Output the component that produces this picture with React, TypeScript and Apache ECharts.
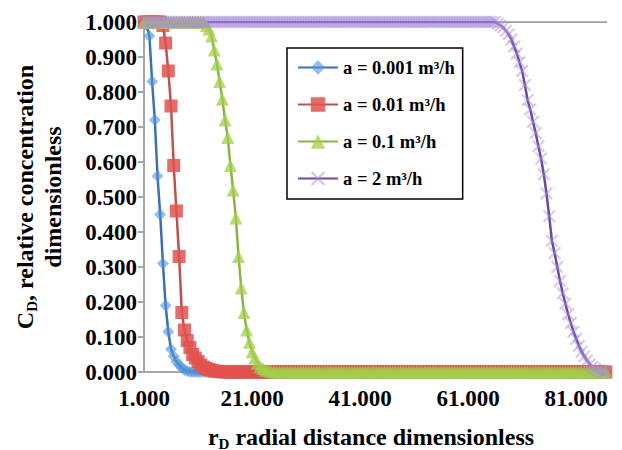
import React, { useEffect, useRef } from 'react';
import * as echarts from 'echarts';

// radial distance grid (rD), step 0.5
const rD = [
  1, 1.5, 2, 2.5, 3, 3.5, 4, 4.5, 5, 5.5,
  6, 6.5, 7, 7.5, 8, 8.5, 9, 9.5, 10, 10.5,
  11, 11.5, 12, 12.5, 13, 13.5, 14, 14.5, 15, 15.5,
  16, 16.5, 17, 17.5, 18, 18.5, 19, 19.5, 20, 20.5,
  21, 21.5, 22, 22.5, 23, 23.5, 24, 24.5, 25, 25.5,
  26, 26.5, 27, 27.5, 28, 28.5, 29, 29.5, 30, 30.5,
  31, 31.5, 32, 32.5, 33, 33.5, 34, 34.5, 35, 35.5,
  36, 36.5, 37, 37.5, 38, 38.5, 39, 39.5, 40, 40.5,
  41, 41.5, 42, 42.5, 43, 43.5, 44, 44.5, 45, 45.5,
  46, 46.5, 47, 47.5, 48, 48.5, 49, 49.5, 50, 50.5,
  51, 51.5, 52, 52.5, 53, 53.5, 54, 54.5, 55, 55.5,
  56, 56.5, 57, 57.5, 58, 58.5, 59, 59.5, 60, 60.5,
  61, 61.5, 62, 62.5, 63, 63.5, 64, 64.5, 65, 65.5,
  66, 66.5, 67, 67.5, 68, 68.5, 69, 69.5, 70, 70.5,
  71, 71.5, 72, 72.5, 73, 73.5, 74, 74.5, 75, 75.5,
  76, 76.5, 77, 77.5, 78, 78.5, 79, 79.5, 80, 80.5,
  81, 81.5, 82, 82.5, 83, 83.5, 84, 84.5, 85, 85.5,
  86, 86.5,
];

// CD values for a = 0.001 m3/h
const cdA0001 = [
  1, 0.99, 0.96, 0.83, 0.72, 0.56, 0.45, 0.31, 0.19, 0.115,
  0.065, 0.045, 0.03, 0.02, 0.012, 0.006, 0.003, 0.001, 0, 0,
  0, 0, 0, 0, 0, 0, 0, 0, 0, 0,
  0, 0, 0, 0, 0, 0, 0, 0, 0, 0,
  0, 0, 0, 0, 0, 0, 0, 0, 0, 0,
  0, 0, 0, 0, 0, 0, 0, 0, 0, 0,
  0, 0, 0, 0, 0, 0, 0, 0, 0, 0,
  0, 0, 0, 0, 0, 0, 0, 0, 0, 0,
  0, 0, 0, 0, 0, 0, 0, 0, 0, 0,
  0, 0, 0, 0, 0, 0, 0, 0, 0, 0,
  0, 0, 0, 0, 0, 0, 0, 0, 0, 0,
  0, 0, 0, 0, 0, 0, 0, 0, 0, 0,
  0, 0, 0, 0, 0, 0, 0, 0, 0, 0,
  0, 0, 0, 0, 0, 0, 0, 0, 0, 0,
  0, 0, 0, 0, 0, 0, 0, 0, 0, 0,
  0, 0, 0, 0, 0, 0, 0, 0, 0, 0,
  0, 0, 0, 0, 0, 0, 0, 0, 0, 0,
  0, 0,
];

// CD values for a = 0.01 m3/h
const cdA001 = [
  1, 1, 1, 1, 1, 1, 1, 0.99, 0.94, 0.86,
  0.76, 0.59, 0.46, 0.33, 0.17, 0.12, 0.09, 0.07, 0.05, 0.04,
  0.03, 0.02, 0.014, 0.01, 0.007, 0.005, 0.003, 0.002, 0.001, 0.001,
  0, 0, 0, 0, 0, 0, 0, 0, 0, 0,
  0, 0, 0, 0, 0, 0, 0, 0, 0, 0,
  0, 0, 0, 0, 0, 0, 0, 0, 0, 0,
  0, 0, 0, 0, 0, 0, 0, 0, 0, 0,
  0, 0, 0, 0, 0, 0, 0, 0, 0, 0,
  0, 0, 0, 0, 0, 0, 0, 0, 0, 0,
  0, 0, 0, 0, 0, 0, 0, 0, 0, 0,
  0, 0, 0, 0, 0, 0, 0, 0, 0, 0,
  0, 0, 0, 0, 0, 0, 0, 0, 0, 0,
  0, 0, 0, 0, 0, 0, 0, 0, 0, 0,
  0, 0, 0, 0, 0, 0, 0, 0, 0, 0,
  0, 0, 0, 0, 0, 0, 0, 0, 0, 0,
  0, 0, 0, 0, 0, 0, 0, 0, 0, 0,
  0, 0, 0, 0, 0, 0, 0, 0, 0, 0,
  0, 0,
];

// CD values for a = 0.1 m3/h
const cdA01 = [
  1, 1, 1, 1, 1, 1, 1, 1, 1, 1,
  1, 1, 1, 1, 1, 1, 1, 1, 1, 1,
  1, 1, 1, 0.99, 0.98, 0.96, 0.92, 0.88, 0.83, 0.78,
  0.72, 0.67, 0.59, 0.52, 0.44, 0.33, 0.24, 0.17, 0.12, 0.085,
  0.058, 0.04, 0.025, 0.015, 0.01, 0.006, 0.004, 0.002, 0.001, 0,
  0, 0, 0, 0, 0, 0, 0, 0, 0, 0,
  0, 0, 0, 0, 0, 0, 0, 0, 0, 0,
  0, 0, 0, 0, 0, 0, 0, 0, 0, 0,
  0, 0, 0, 0, 0, 0, 0, 0, 0, 0,
  0, 0, 0, 0, 0, 0, 0, 0, 0, 0,
  0, 0, 0, 0, 0, 0, 0, 0, 0, 0,
  0, 0, 0, 0, 0, 0, 0, 0, 0, 0,
  0, 0, 0, 0, 0, 0, 0, 0, 0, 0,
  0, 0, 0, 0, 0, 0, 0, 0, 0, 0,
  0, 0, 0, 0, 0, 0, 0, 0, 0, 0,
  0, 0, 0, 0, 0, 0, 0, 0, 0, 0,
  0, 0, 0, 0, 0, 0, 0, 0, 0, 0,
  0, 0,
];

// CD values for a = 2 m3/h
const cdA2 = [
  1, 1, 1, 1, 1, 1, 1, 1, 1, 1,
  1, 1, 1, 1, 1, 1, 1, 1, 1, 1,
  1, 1, 1, 1, 1, 1, 1, 1, 1, 1,
  1, 1, 1, 1, 1, 1, 1, 1, 1, 1,
  1, 1, 1, 1, 1, 1, 1, 1, 1, 1,
  1, 1, 1, 1, 1, 1, 1, 1, 1, 1,
  1, 1, 1, 1, 1, 1, 1, 1, 1, 1,
  1, 1, 1, 1, 1, 1, 1, 1, 1, 1,
  1, 1, 1, 1, 1, 1, 1, 1, 1, 1,
  1, 1, 1, 1, 1, 1, 1, 1, 1, 1,
  1, 1, 1, 1, 1, 1, 1, 1, 1, 1,
  1, 1, 1, 1, 1, 1, 1, 1, 1, 1,
  1, 1, 1, 1, 1, 1, 1, 1, 1, 1,
  1, 0.995, 0.99, 0.985, 0.975, 0.965, 0.95, 0.93, 0.91, 0.885,
  0.86, 0.82, 0.777, 0.75, 0.715, 0.683, 0.645, 0.61, 0.565, 0.51,
  0.445, 0.375, 0.34, 0.3, 0.26, 0.225, 0.195, 0.165, 0.14, 0.115,
  0.095, 0.075, 0.058, 0.045, 0.033, 0.022, 0.014, 0.009, 0.005, 0.003,
  0.001, 0,
];

// reference level CD = 1
const refX = [1, 86.7];
const refY = [1, 1];

const seriesNames = ['a = 0.001 m³/h', 'a = 0.01 m³/h', 'a = 0.1 m³/h', 'a = 2 m³/h'];
const xTickValues = [1, 21, 41, 61, 81];

const FONT = '"Liberation Serif", "Times New Roman", serif';
const X_SYMBOL =
  'path://M0,1.2L1.2,0L5,3.8L8.8,0L10,1.2L6.2,5L10,8.8L8.8,10L5,6.2L1.2,10L0,8.8L3.8,5Z';

export default function App() {
  const ref = useRef<HTMLDivElement>(null);

  useEffect(() => {
    if (!ref.current) return;
    const chart = echarts.init(ref.current, null, { renderer: 'svg' });
    const pair = (xs: number[], ys: number[]) => xs.map((x, i) => [x, ys[i]]);

    const mk = (
      name: string,
      ys: number[],
      symbol: string,
      size: number,
      lineColor: string,
      markColor: string,
      markOpacity: number
    ) => ({
      type: 'line',
      name,
      data: pair(rD, ys),
      symbol,
      symbolSize: size,
      showAllSymbol: true,
      silent: true,
      emphasis: { disabled: true },
      lineStyle: { color: lineColor, width: 2.5 },
      itemStyle: { color: markColor, opacity: markOpacity },
    });

    const sub = { fontFamily: FONT, fontWeight: 'bold', fontSize: 15, fill: '#000', color: '#000', verticalAlign: 'bottom' };
    const norm = { fontFamily: FONT, fontWeight: 'bold', fontSize: 24, fill: '#000', color: '#000', lineHeight: 28 };

    chart.setOption({
      animation: false,
      backgroundColor: '#fff',
      grid: { left: 144, top: 22, width: 463, height: 350, containLabel: false },
      xAxis: {
        type: 'value',
        min: 1,
        max: 86.7,
        axisLine: { show: true, onZero: false, lineStyle: { color: '#a6a6a6', width: 2 } },
        axisTick: { show: false },
        splitLine: { show: false },
        axisLabel: {
          customValues: xTickValues,
          formatter: (v: number) => v.toFixed(3),
          margin: 15,
          fontFamily: FONT,
          fontWeight: 'bold',
          fontSize: 23,
          color: '#000',
        },
      },
      yAxis: {
        type: 'value',
        min: 0,
        max: 1,
        interval: 0.1,
        axisLine: { show: true, lineStyle: { color: '#a6a6a6', width: 2 } },
        axisTick: { show: true, length: 6, lineStyle: { color: '#a6a6a6', width: 2 } },
        splitLine: { show: false },
        axisLabel: {
          formatter: (v: number) => v.toFixed(3),
          margin: 7,
          fontFamily: FONT,
          fontWeight: 'bold',
          fontSize: 23,
          color: '#000',
        },
      },
      legend: {
        data: seriesNames,
        orient: 'vertical',
        left: 287,
        top: 48,
        padding: [10, 8, 11, 10],
        itemWidth: 40,
        itemHeight: 18,
        itemGap: 18,
        itemTextGap: 6,
        selectedMode: false,
        borderColor: '#000',
        borderWidth: 1.5,
        backgroundColor: '#fff',
        textStyle: { fontFamily: FONT, fontWeight: 'bold', fontSize: 18.5, color: '#000', lineHeight: 18 },
      },
      series: [
        {
          type: 'line',
          name: 'ref',
          data: pair(refX, refY),
          symbol: 'none',
          silent: true,
          lineStyle: { color: '#7f7f7f', width: 1.5 },
          itemStyle: { color: '#7f7f7f' },
        },
        mk(seriesNames[0], cdA0001, 'diamond', 12, '#3a6fb7', '#4f93dc', 0.6),
        mk(seriesNames[1], cdA001, 'rect', 13, '#c0504d', '#e0524f', 0.85),
        mk(seriesNames[2], cdA01, 'triangle', 13, '#8db33f', '#a2cf4a', 0.75),
        mk(seriesNames[3], cdA2, X_SYMBOL, 13, '#6a4ba0', '#a98ad6', 0.45),
      ],
      graphic: [
        {
          type: 'text',
          x: 371,
          y: 437,
          silent: true,
          style: {
            text: '{n|r}{s|D}{n| radial distance dimensionless}',
            rich: { n: norm, s: sub },
            align: 'center',
            verticalAlign: 'middle',
            fill: '#000',
          },
        },
        {
          type: 'text',
          x: 39,
          y: 197,
          rotation: Math.PI / 2,
          silent: true,
          style: {
            text: '{n|C}{s|D}{n|, relative concentration}\n{n|dimensionless}',
            rich: { n: norm, s: sub },
            align: 'center',
            verticalAlign: 'middle',
            fill: '#000',
          },
        },
      ],
    });

    return () => chart.dispose();
  }, []);

  return (
    <div
      ref={ref}
      style={{ position: 'fixed', left: 0, top: 0, width: 622, height: 450 }}
    />
  );
}
